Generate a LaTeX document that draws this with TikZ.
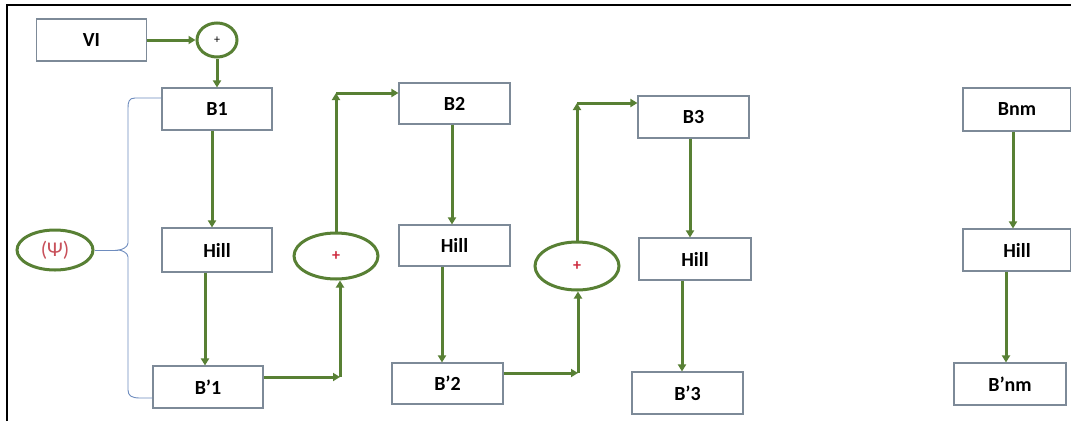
\documentclass[tikz,border=0pt]{standalone}
\usepackage{fontspec}
\setmainfont{Carlito}
\usetikzlibrary{arrows.meta,calc,shapes.geometric}
\definecolor{grn}{RGB}{88,128,52}
\definecolor{boxedge}{RGB}{125,138,152}
\definecolor{brc}{RGB}{110,140,190}
\definecolor{redt}{RGB}{205,40,60}
\definecolor{psit}{RGB}{200,80,90}
\tikzset{
  bbox/.style={draw=boxedge,line width=1.1pt,fill=white,minimum width=110pt,minimum height=42pt,inner sep=0pt,font=\fontsize{20}{22}\selectfont\bfseries},
  gl/.style={draw=grn,line width=3pt},
  ga/.style={gl,-{Triangle[length=7pt,width=8pt]}},
  sumell/.style={draw=grn,line width=3pt,ellipse,inner sep=0pt},
}
\begin{document}
\begin{tikzpicture}[x=1pt,y=-1pt]
\useasboundingbox (0,0) rectangle (1071,421);
\fill[white] (0,0) rectangle (1071,421);
\draw[black,line width=2pt] (7,421) -- (7,5) -- (1071,5);

% boxes
\node[bbox] (VI) at (91.5,40) {VI};
\node[bbox] (B1) at (217,109) {B1};
\node[bbox,minimum height=44pt] (H1) at (217,250) {Hill};
\node[bbox] (Bp1) at (208,387) {B’1};
\node[bbox,minimum width=111pt,minimum height=41pt] (B2) at (454.5,103.5) {B2};
\node[bbox,minimum width=111pt,minimum height=41pt] (H2) at (454.5,245.5) {Hill};
\node[bbox,minimum width=111pt,minimum height=41pt] (Bp2) at (447.5,383.5) {B’2};
\node[bbox,minimum width=111pt] (B3) at (693.5,117) {B3};
\node[bbox,minimum width=112pt] (H3) at (695,259) {Hill};
\node[bbox,minimum width=111pt] (Bp3) at (687.5,393) {B’3};
\node[bbox,minimum width=108pt,minimum height=43pt] (Bn) at (1017,109.5) {Bnm};
\node[bbox,minimum width=108pt] (H4) at (1017,250) {Hill};
\node[bbox,minimum width=112pt] (Bpn) at (1010,384) {B’nm};

% summing nodes
\node[sumell,minimum width=40pt,minimum height=34pt,font=\fontsize{12}{12}\selectfont] (P0) at (217,40) {+};
\node[sumell,minimum width=84pt,minimum height=46pt,font=\fontsize{16}{16}\selectfont\bfseries,text=redt] (P1) at (336,256) {+};
\node[sumell,minimum width=84pt,minimum height=48pt,font=\fontsize{16}{16}\selectfont\bfseries,text=redt] (P2) at (577,266) {+};
\node[sumell,minimum width=76pt,minimum height=40pt,font=\fontsize{21}{21}\selectfont,text=psit] (Psi) at (55,250) {(Ψ)};

% brace
\coordinate (btip) at (118,250);
\draw[brc,line width=0.9pt] (Psi.east) -- (btip);
\draw[brc,line width=0.9pt] (B1.west |- 0,98) -- (135,98) .. controls (129,98) and (128,102) .. (128,108)
  -- (128,243) .. controls (128,247) and (122,250) .. (btip)
  .. controls (122,250) and (128,253) .. (128,257)
  -- (128,390) .. controls (128,396) and (132,398) .. (140,398) -- (Bp1.west |- 0,398);

% column arrows
\draw[ga] (VI.east) -- (P0.west);
\draw[ga] (P0.south) -- (P0.south |- B1.north);
\draw[ga] ([xshift=-5pt]B1.south) -- ([xshift=-5pt]H1.north);
\draw[ga] ([xshift=-12pt]H1.south) -- ([xshift=-3pt]Bp1.north);

\coordinate (c1a) at (340,377);
\coordinate (c1b) at (336,93);
\draw[ga] (Bp1.east |- c1a) -- (c1a);
\draw[ga] (c1a) -- (c1a |- P1.south);
\draw[ga] (P1.north) -- (c1b);
\draw[ga] (c1b) -- (c1b -| B2.west);
\draw[ga] ([xshift=-2.5pt]B2.south) -- ([xshift=-2.5pt]H2.north);
\draw[ga] ([xshift=-12.5pt]H2.south) -- ([xshift=-5.5pt]Bp2.north);

\coordinate (c2a) at (578,373);
\coordinate (c2b) at (577,103);
\draw[ga] (Bp2.east |- c2a) -- (c2a);
\draw[ga] (c2a) -- (c2a |- P2.south);
\draw[ga] (P2.north) -- (c2b);
\draw[ga] (c2b) -- (c2b -| B3.west);
\draw[ga] ([xshift=-3.5pt]B3.south) -- ([xshift=-5pt]H3.north);
\draw[ga] ([xshift=-13pt]H3.south) -- ([xshift=-5.5pt]Bp3.north);

\draw[ga] ([xshift=-4pt]Bn.south) -- ([xshift=-4pt]H4.north);
\draw[ga] ([xshift=-11pt]H4.south) -- ([xshift=-4pt]Bpn.north);
\end{tikzpicture}
\end{document}
